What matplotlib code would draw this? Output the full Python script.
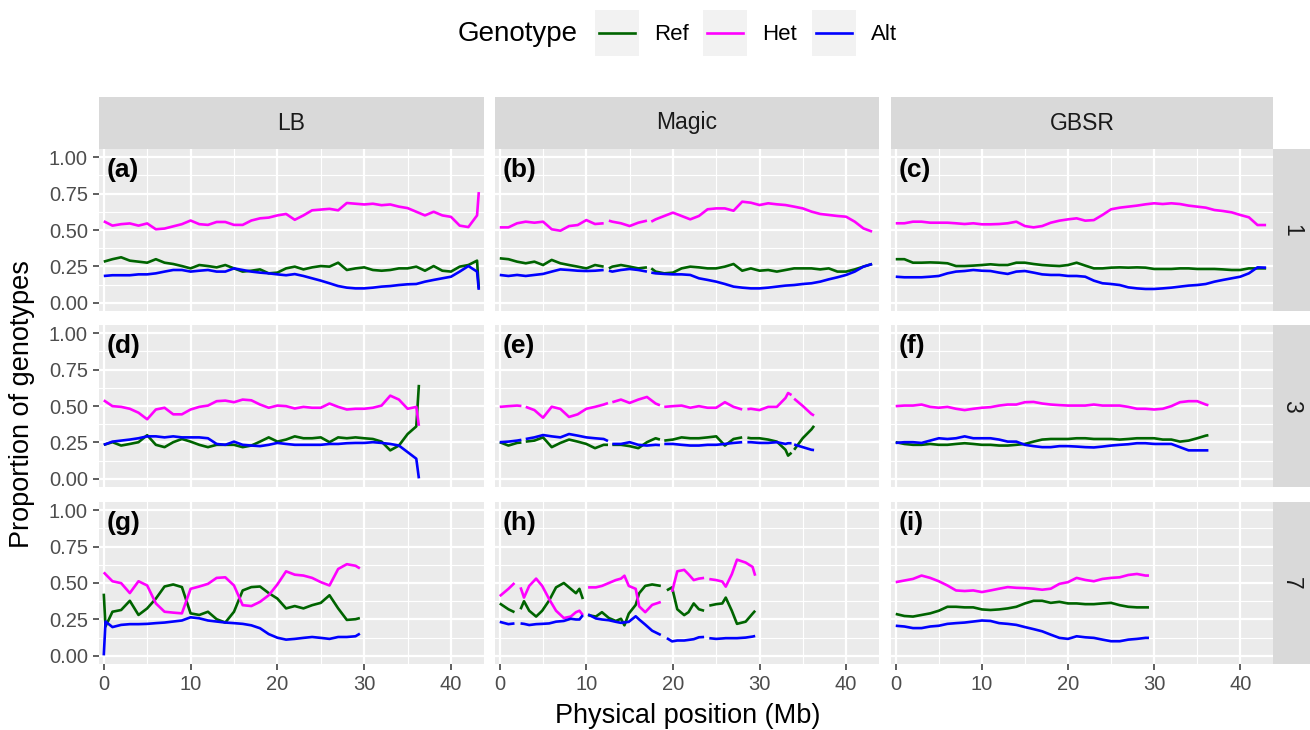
import numpy as np
import matplotlib
matplotlib.use("Agg")
import matplotlib.pyplot as plt
from matplotlib.patches import Rectangle
from matplotlib.lines import Line2D

plt.rcParams['font.family'] = ['Liberation Sans', 'DejaVu Sans']

nan = np.nan

# ---- data (proportion of genotypes along chromosome, Mb) ----
populations = ['LB', 'Magic', 'GBSR']
chromosomes = ['1', '3', '7']
genotypes = ['Ref', 'Het', 'Alt']
geno_colors = {'Ref': '#006400', 'Het': '#FF00FF', 'Alt': '#0000FF'}
panel_tags = ['(a)', '(b)', '(c)', '(d)', '(e)', '(f)', '(g)', '(h)', '(i)']

# chr 1
pos_a = list(range(44)) + [43.2]
het_a = [0.56, 0.53, 0.54, 0.545, 0.53, 0.545, 0.505, 0.51, 0.525, 0.54, 0.565, 0.54, 0.535, 0.555, 0.555,
         0.535, 0.535, 0.565, 0.58, 0.585, 0.60, 0.61, 0.57, 0.60, 0.635, 0.64, 0.645, 0.635, 0.685, 0.68,
         0.675, 0.68, 0.67, 0.675, 0.66, 0.65, 0.625, 0.60, 0.625, 0.60, 0.59, 0.53, 0.52, 0.60, 0.76]
ref_a = [0.283, 0.30, 0.313, 0.29, 0.283, 0.276, 0.30, 0.276, 0.267, 0.253, 0.237, 0.26, 0.253, 0.244, 0.26,
         0.237, 0.215, 0.221, 0.23, 0.203, 0.208, 0.237, 0.249, 0.23, 0.244, 0.253, 0.249, 0.276, 0.226, 0.237,
         0.244, 0.226, 0.221, 0.226, 0.237, 0.237, 0.249, 0.221, 0.253, 0.221, 0.215, 0.249, 0.26, 0.29, 0.10]
alt_a = [0.185, 0.19, 0.19, 0.19, 0.196, 0.196, 0.203, 0.215, 0.226, 0.226, 0.215, 0.221, 0.226, 0.215, 0.215,
         0.237, 0.226, 0.215, 0.208, 0.203, 0.196, 0.19, 0.198, 0.185, 0.169, 0.153, 0.135, 0.116, 0.105, 0.10,
         0.10, 0.105, 0.112, 0.116, 0.123, 0.128, 0.13, 0.146, 0.158, 0.169, 0.18, 0.215, 0.253, 0.215, 0.09]

pos_b = list(range(13)) + [12.3, 12.6] + list(range(13, 18)) + [17.25, 17.5] + list(range(18, 44))
het_b = [0.518, 0.518, 0.546, 0.557, 0.55, 0.557, 0.505, 0.495, 0.527, 0.534, 0.568, 0.541, 0.546,
         nan, 0.564, 0.557, 0.546, 0.527, 0.55, 0.564, nan, 0.557,
         0.573, 0.596, 0.619, 0.596, 0.573, 0.596, 0.642, 0.648, 0.648, 0.632, 0.694, 0.687, 0.671,
         0.683, 0.676, 0.671, 0.66, 0.648, 0.626, 0.61, 0.603, 0.596, 0.591, 0.557, 0.511, 0.489]
ref_b = [0.306, 0.30, 0.283, 0.272, 0.283, 0.26, 0.295, 0.272, 0.26, 0.249, 0.237, 0.26, 0.249,
         nan, 0.237, 0.249, 0.26, 0.249, 0.237, 0.244, nan, 0.237,
         0.215, 0.203, 0.208, 0.237, 0.249, 0.244, 0.237, 0.237, 0.249, 0.267, 0.221, 0.237, 0.221,
         0.226, 0.215, 0.226, 0.237, 0.237, 0.237, 0.23, 0.237, 0.215, 0.215, 0.23, 0.249, 0.267]
alt_b = [0.192, 0.185, 0.192, 0.185, 0.192, 0.199, 0.215, 0.23, 0.226, 0.221, 0.219, 0.221, 0.226,
         nan, 0.221, 0.215, 0.226, 0.233, 0.226, 0.215, nan, 0.208,
         0.203, 0.199, 0.196, 0.196, 0.192, 0.169, 0.158, 0.146, 0.13, 0.112, 0.105, 0.10, 0.10,
         0.105, 0.112, 0.119, 0.123, 0.13, 0.135, 0.146, 0.162, 0.176, 0.192, 0.215, 0.249, 0.267]

pos_c = list(range(44))
het_c = [0.546, 0.546, 0.557, 0.557, 0.55, 0.55, 0.55, 0.546, 0.541, 0.546, 0.539, 0.539, 0.541, 0.546, 0.557,
         0.527, 0.518, 0.527, 0.55, 0.564, 0.573, 0.58, 0.564, 0.568, 0.603, 0.642, 0.653, 0.66, 0.667, 0.676,
         0.683, 0.678, 0.683, 0.678, 0.667, 0.66, 0.653, 0.637, 0.63, 0.621, 0.603, 0.587, 0.534, 0.534]
ref_c = [0.30, 0.30, 0.276, 0.276, 0.278, 0.276, 0.272, 0.253, 0.253, 0.256, 0.26, 0.265, 0.26, 0.26, 0.276,
         0.276, 0.267, 0.26, 0.256, 0.253, 0.26, 0.276, 0.256, 0.237, 0.237, 0.242, 0.244, 0.242, 0.244, 0.242,
         0.233, 0.233, 0.233, 0.237, 0.237, 0.233, 0.233, 0.233, 0.23, 0.226, 0.226, 0.237, 0.237, 0.237]
alt_c = [0.18, 0.176, 0.176, 0.176, 0.18, 0.185, 0.203, 0.215, 0.219, 0.226, 0.221, 0.219, 0.208, 0.199, 0.215,
         0.219, 0.208, 0.196, 0.192, 0.192, 0.185, 0.185, 0.18, 0.153, 0.135, 0.13, 0.123, 0.107, 0.10, 0.096,
         0.096, 0.10, 0.105, 0.112, 0.119, 0.123, 0.13, 0.146, 0.158, 0.169, 0.18, 0.203, 0.244, 0.242]

# chr 3
pos_d = list(range(37)) + [36.3]
het_d = [0.539, 0.499, 0.494, 0.481, 0.454, 0.409, 0.476, 0.488, 0.443, 0.443, 0.476, 0.494, 0.503, 0.533,
         0.537, 0.526, 0.544, 0.539, 0.51, 0.488, 0.503, 0.499, 0.483, 0.494, 0.488, 0.488, 0.517, 0.494,
         0.476, 0.481, 0.481, 0.488, 0.503, 0.571, 0.544, 0.481, 0.494, 0.364]
ref_d = [0.234, 0.252, 0.229, 0.24, 0.252, 0.30, 0.234, 0.218, 0.252, 0.274, 0.256, 0.234, 0.218, 0.234,
         0.234, 0.234, 0.218, 0.229, 0.256, 0.285, 0.256, 0.27, 0.292, 0.279, 0.279, 0.285, 0.252, 0.285,
         0.279, 0.285, 0.279, 0.274, 0.256, 0.196, 0.229, 0.308, 0.36, 0.645]
alt_d = [0.234, 0.256, 0.263, 0.27, 0.279, 0.292, 0.292, 0.285, 0.292, 0.285, 0.285, 0.285, 0.279, 0.24,
         0.234, 0.256, 0.234, 0.229, 0.225, 0.234, 0.247, 0.24, 0.234, 0.234, 0.234, 0.234, 0.24, 0.24,
         0.245, 0.247, 0.247, 0.252, 0.247, 0.24, 0.229, 0.184, 0.139, 0.004]

pos_e = [0, 1, 2, 2.5, 2.75] + list(range(3, 13)) + [12.5, 12.75] + list(range(13, 19)) + [18.5, 18.75] \
    + list(range(19, 29)) + [28.3, 28.6] + list(range(29, 34)) + [33.3, 33.7, 33.85, 34, 35, 36, 36.3]
het_e = [0.494, 0.499, 0.503, 0.50, nan, 0.494, 0.472, 0.42, 0.495, 0.48, 0.425, 0.443, 0.481, 0.494, 0.51,
         0.52, nan, 0.526, 0.544, 0.521, 0.544, 0.562, 0.517, 0.505, nan, 0.494, 0.499, 0.503, 0.488, 0.499,
         0.488, 0.488, 0.526, 0.494, 0.476, nan, 0.478, 0.481, 0.472, 0.494, 0.494, 0.555, 0.589, 0.575, nan,
         0.55, 0.50, 0.445, 0.435]
ref_e = [0.252, 0.229, 0.247, 0.25, nan, 0.256, 0.263, 0.285, 0.218, 0.247, 0.27, 0.256, 0.24, 0.211, 0.234,
         0.234, nan, 0.234, 0.234, 0.225, 0.211, 0.252, 0.279, 0.27, nan, 0.263, 0.27, 0.285, 0.279, 0.279,
         0.285, 0.292, 0.229, 0.274, 0.285, nan, 0.283, 0.279, 0.279, 0.27, 0.256, 0.20, 0.16, 0.18, nan,
         0.20, 0.28, 0.34, 0.364]
alt_e = [0.252, 0.256, 0.263, 0.268, nan, 0.274, 0.285, 0.301, 0.292, 0.285, 0.308, 0.297, 0.285, 0.279, 0.274,
         0.26, nan, 0.24, 0.24, 0.252, 0.234, 0.229, 0.234, 0.232, nan, 0.24, 0.24, 0.234, 0.229, 0.229,
         0.234, 0.234, 0.24, 0.247, 0.252, nan, 0.252, 0.252, 0.247, 0.247, 0.252, 0.24, 0.245, 0.245, nan,
         0.236, 0.218, 0.20, 0.198]

pos_f = list(range(37)) + [36.3]
het_f = [0.499, 0.503, 0.503, 0.51, 0.494, 0.488, 0.494, 0.481, 0.472, 0.481, 0.488, 0.492, 0.503, 0.51,
         0.51, 0.526, 0.528, 0.517, 0.51, 0.506, 0.503, 0.503, 0.503, 0.51, 0.503, 0.503, 0.503, 0.494,
         0.481, 0.481, 0.476, 0.481, 0.499, 0.526, 0.533, 0.533, 0.51, 0.505]
ref_f = [0.252, 0.24, 0.234, 0.234, 0.24, 0.234, 0.234, 0.24, 0.245, 0.24, 0.234, 0.234, 0.229, 0.229,
         0.234, 0.24, 0.256, 0.27, 0.274, 0.274, 0.274, 0.279, 0.279, 0.274, 0.274, 0.274, 0.27, 0.274,
         0.279, 0.279, 0.279, 0.27, 0.27, 0.256, 0.263, 0.279, 0.297, 0.30]
alt_f = [0.247, 0.252, 0.252, 0.247, 0.263, 0.279, 0.274, 0.279, 0.292, 0.279, 0.279, 0.279, 0.27, 0.256,
         0.256, 0.234, 0.225, 0.218, 0.218, 0.225, 0.225, 0.222, 0.218, 0.216, 0.222, 0.229, 0.234, 0.238,
         0.245, 0.245, 0.24, 0.24, 0.24, 0.218, 0.196, 0.196, 0.196, 0.196]

# chr 7
pos_g = [0, 0.2] + list(range(1, 30)) + [29.5]
het_g = [0.573, 0.56, 0.512, 0.499, 0.431, 0.512, 0.483, 0.36, 0.303, 0.297, 0.292, 0.46, 0.476, 0.494,
         0.535, 0.539, 0.483, 0.348, 0.342, 0.371, 0.416, 0.49, 0.58, 0.557, 0.551, 0.535, 0.506, 0.483,
         0.596, 0.629, 0.618, 0.60]
ref_g = [0.427, 0.202, 0.303, 0.315, 0.378, 0.281, 0.326, 0.393, 0.476, 0.49, 0.472, 0.292, 0.281, 0.303,
         0.252, 0.229, 0.303, 0.449, 0.472, 0.476, 0.431, 0.393, 0.326, 0.342, 0.326, 0.348, 0.364, 0.416,
         0.326, 0.247, 0.252, 0.26]
alt_g = [0.004, 0.236, 0.198, 0.213, 0.218, 0.218, 0.22, 0.225, 0.229, 0.236, 0.243, 0.265, 0.258, 0.243,
         0.236, 0.229, 0.225, 0.22, 0.21, 0.19, 0.15, 0.125, 0.112, 0.117, 0.124, 0.13, 0.124, 0.117,
         0.13, 0.13, 0.135, 0.153]

pos_h = [0, 1, 1.7, 2.1, 2.4, 2.8, 3.4, 4.2, 4.9, 5.7, 6.5, 7.4, 8.2, 8.8, 9.2, 9.6, 9.9, 10.2, 11.1, 11.8,
         12.6, 13.4, 14, 14.4, 14.9, 15.7, 16.1, 16.8, 17.6, 18.6, 19.0, 19.3, 19.9, 20.5, 21.3, 21.8, 22.4,
         23, 23.6, 23.9, 24.2, 25, 25.7, 26.1, 26.8, 27.4, 28.4, 29.2, 29.5]
het_h = [0.41, 0.46, 0.50, nan, 0.47, 0.40, 0.48, 0.53, 0.48, 0.39, 0.31, 0.26, 0.27, 0.30, 0.31, 0.28, nan,
         0.47, 0.47, 0.48, 0.50, 0.52, 0.53, 0.55, 0.48, 0.46, 0.34, 0.30, 0.35, 0.37, nan, nan, 0.44, 0.58,
         0.59, 0.56, 0.52, 0.53, 0.535, nan, 0.527, 0.52, 0.51, 0.475, 0.56, 0.66, 0.64, 0.61, 0.55]
ref_h = [0.36, 0.32, 0.30, nan, 0.32, 0.375, 0.31, 0.27, 0.31, 0.38, 0.47, 0.50, 0.46, 0.43, 0.46, 0.39, nan,
         0.28, 0.27, 0.30, 0.26, 0.24, 0.255, 0.21, 0.29, 0.35, 0.43, 0.48, 0.49, 0.48, nan, 0.45, 0.47, 0.32,
         0.28, 0.30, 0.36, 0.32, 0.31, nan, 0.345, 0.355, 0.36, 0.40, 0.31, 0.22, 0.235, 0.29, 0.31]
alt_h = [0.234, 0.218, 0.223, nan, 0.223, 0.22, 0.212, 0.218, 0.22, 0.223, 0.235, 0.24, 0.255, 0.25, 0.25, 0.28,
         nan, 0.285, 0.257, 0.25, 0.245, 0.234, 0.227, 0.23, 0.234, 0.272, 0.25, 0.215, 0.173, 0.144, nan,
         0.122, 0.10, 0.106, 0.106, 0.11, 0.115, 0.128, 0.13, nan, 0.122, 0.117, 0.12, 0.122, 0.122, 0.122,
         0.126, 0.133, 0.137]

pos_i = list(range(30)) + [29.4]
het_i = [0.506, 0.517, 0.528, 0.551, 0.535, 0.512, 0.483, 0.449, 0.445, 0.449, 0.438, 0.449, 0.461, 0.472,
         0.467, 0.465, 0.461, 0.454, 0.461, 0.494, 0.506, 0.535, 0.521, 0.512, 0.528, 0.535, 0.539, 0.555,
         0.562, 0.551, 0.551]
ref_i = [0.288, 0.274, 0.27, 0.281, 0.292, 0.31, 0.337, 0.337, 0.333, 0.333, 0.319, 0.315, 0.319, 0.326,
         0.337, 0.36, 0.378, 0.378, 0.364, 0.371, 0.36, 0.36, 0.355, 0.355, 0.36, 0.364, 0.348, 0.337,
         0.333, 0.333, 0.333]
alt_i = [0.207, 0.202, 0.191, 0.191, 0.202, 0.207, 0.22, 0.225, 0.229, 0.236, 0.243, 0.24, 0.225, 0.22,
         0.213, 0.198, 0.184, 0.169, 0.146, 0.124, 0.117, 0.135, 0.128, 0.124, 0.112, 0.101, 0.101, 0.112,
         0.117, 0.124, 0.124]

panels = [
    [(pos_a, ref_a, het_a, alt_a), (pos_b, ref_b, het_b, alt_b), (pos_c, ref_c, het_c, alt_c)],
    [(pos_d, ref_d, het_d, alt_d), (pos_e, ref_e, het_e, alt_e), (pos_f, ref_f, het_f, alt_f)],
    [(pos_g, ref_g, het_g, alt_g), (pos_h, ref_h, het_h, alt_h), (pos_i, ref_i, het_i, alt_i)],
]

# ---- layout (pixels) ----
W, H = 1310, 730
fig = plt.figure(figsize=(W / 100, H / 100), dpi=100)

col_x = [(99, 484), (495, 879), (891, 1273)]
row_y = [(149, 311), (325, 487), (502, 664)]
strip_top = 97


def px_rect(x0, y0, x1, y1):
    return [x0 / W, 1 - y1 / H, (x1 - x0) / W, (y1 - y0) / H]


k = 0
for r in range(3):
    for c in range(3):
        x0, x1 = col_x[c]
        y0, y1 = row_y[r]
        ax = fig.add_axes(px_rect(x0, y0, x1, y1))
        ax.set_facecolor('#EBEBEB')
        for s in ax.spines.values():
            s.set_visible(False)
        ax.set_xlim(-0.55, 43.8)
        ax.set_ylim(-0.055, 1.055)
        ax.set_xticks([0, 10, 20, 30, 40])
        ax.set_xticks([5, 15, 25, 35], minor=True)
        ax.set_yticks([0, 0.25, 0.5, 0.75, 1.0])
        ax.set_yticks([0.125, 0.375, 0.625, 0.875], minor=True)
        ax.set_yticklabels(['0.00', '0.25', '0.50', '0.75', '1.00'])
        ax.grid(which='major', color='white', lw=1.6)
        ax.grid(which='minor', color='white', lw=0.8)
        ax.set_axisbelow(True)
        ax.tick_params(which='minor', length=0)
        ax.tick_params(which='major', length=4, width=1.1, color='#333333',
                       labelcolor='#4D4D4D', labelsize=14.5, pad=4)
        ax.tick_params(axis='y', left=(c == 0), labelleft=(c == 0))
        ax.tick_params(axis='x', bottom=(r == 2), labelbottom=(r == 2))

        pos, ref, het, alt = panels[r][c]
        for g, vals in zip(genotypes, (ref, het, alt)):
            ax.plot(pos, vals, color=geno_colors[g], lw=1.9, solid_capstyle='butt')

        ax.annotate(panel_tags[k], xy=(0, 1), xycoords='axes fraction', xytext=(8, -9),
                    textcoords='offset pixels', ha='left', va='top', fontsize=19,
                    fontweight='bold', color='black')
        k += 1

        if r == 0:
            sax = fig.add_axes(px_rect(x0, strip_top, x1, y0))
            sax.set_facecolor('#D9D9D9')
            sax.set_xticks([])
            sax.set_yticks([])
            for s in sax.spines.values():
                s.set_visible(False)
            sax.text(0.5, 0.5, populations[c], ha='center', va='center', fontsize=16.5,
                     color='#1A1A1A', transform=sax.transAxes)
        if c == 2:
            sax = fig.add_axes(px_rect(x1, y0, W, y1))
            sax.set_facecolor('#D9D9D9')
            sax.set_xticks([])
            sax.set_yticks([])
            for s in sax.spines.values():
                s.set_visible(False)
            sax.text(0.5, 0.5, chromosomes[r], ha='center', va='center', fontsize=16.5,
                     color='#1A1A1A', rotation=-90, transform=sax.transAxes)

# axis titles
fig.text(688 / W, 1 - 716 / H, 'Physical position (Mb)', ha='center', va='center', fontsize=19.5)
fig.text(22 / W, 1 - 404 / H, 'Proportion of genotypes', ha='center', va='center',
         fontsize=19.5, rotation=90)

# legend (top)
lax = fig.add_axes([0, 0, 1, 1], zorder=-1)
lax.set_xlim(0, W)
lax.set_ylim(H, 0)
lax.axis('off')
lax.text(458, 34, 'Genotype', ha='left', va='center', fontsize=20)
key_x = [595, 703, 812]
for g, kx in zip(genotypes, key_x):
    lax.add_patch(Rectangle((kx, 10), 44, 46, facecolor='#F2F2F2', edgecolor='none'))
    lax.add_line(Line2D([kx + 4, kx + 40], [33, 33], color=geno_colors[g], lw=1.9))
    lax.text(kx + 59, 34, g, ha='left', va='center', fontsize=16)

fig.savefig('out.png', dpi=100)
